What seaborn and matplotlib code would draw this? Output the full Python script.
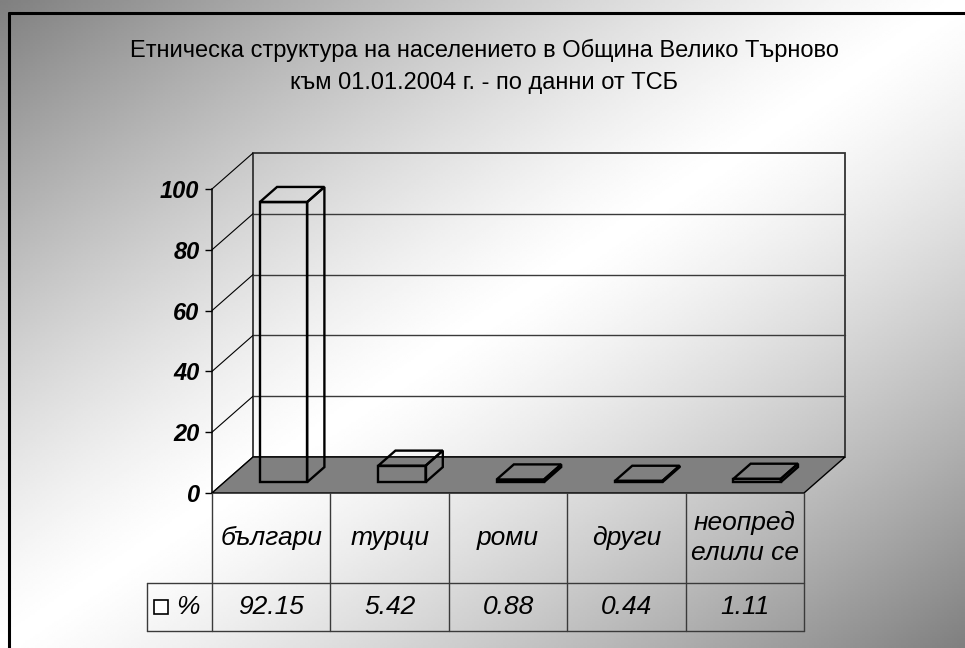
import numpy as np
import pandas as pd
import matplotlib
matplotlib.use("Agg")
import matplotlib.pyplot as plt
from matplotlib.patches import Polygon, Rectangle
from matplotlib.lines import Line2D
import seaborn as sns

# данни
categories = ['българи', 'турци', 'роми', 'други', 'неопред\nелили се']
values = [92.15, 5.42, 0.88, 0.44, 1.11]
series_name = '%'
yticks = [0, 20, 40, 60, 80, 100]
title = ('Етническа структура на населението в Община Велико Търново\n'
         'към 01.01.2004 г. - по данни от ТСБ')

W, H = 965, 648
sns.set_theme(style='white')
plt.rcParams['font.family'] = ['Liberation Sans', 'DejaVu Sans']
plt.rcParams['text.color'] = 'black'
plt.rcParams['ytick.color'] = 'black'
plt.rcParams['ytick.labelcolor'] = 'black'

fig = plt.figure(figsize=(W / 100, H / 100), dpi=100)

# фон - диагонален градиент (сиво - бяло - сиво)
bg = fig.add_axes([0, 0, 1, 1], zorder=-10)
xx, yy = np.meshgrid(np.linspace(0, 1, 400), np.linspace(0, 1, 300))
t = (xx + yy) / 2
shade = 1 - 0.5 * np.abs(2 * t - 1) ** 1.25
bg.imshow(shade, cmap='gray', vmin=0, vmax=1, aspect='auto', interpolation='bilinear')
bg.axis('off')

# предна равнина на графиката (в пиксели)
px_left, px_right = 212, 804
px_zero, px_top = 493, 189
ax = fig.add_axes([px_left / W, 1 - px_zero / H,
                   (px_right - px_left) / W, (px_zero - px_top) / H])
ax.set_facecolor('none')

n = len(categories)
px_per_cat = (px_right - px_left) / n
px_per_unit = (px_zero - px_top) / 100
DX = 41 / px_per_cat       # дълбочина по x (в категории)
DY = 36 / px_per_unit      # дълбочина по y (в единици)

df = pd.DataFrame({'категория': categories, 'стойност': values})
sns.barplot(data=df, x='категория', y='стойност', ax=ax, width=0.40,
            fill=False, color='black', edgecolor='black', linewidth=1.7, zorder=4)

ax.set_xlim(-0.5, n - 0.5)
ax.set_ylim(0, 100)
ax.set_xlabel('')
ax.set_ylabel('')

# 3D вид на колоните
f0, f1 = 0.30, 0.72
for p in ax.patches:
    x0 = p.get_x()
    w = p.get_width()
    h = p.get_height()
    p.set_x(x0 + f0 * DX)
    p.set_y(f0 * DY)
    p.set_clip_on(False)
    top = [(x0 + f0 * DX, f0 * DY + h), (x0 + w + f0 * DX, f0 * DY + h),
           (x0 + w + f1 * DX, f1 * DY + h), (x0 + f1 * DX, f1 * DY + h)]
    side = [(x0 + w + f0 * DX, f0 * DY), (x0 + w + f1 * DX, f1 * DY),
            (x0 + w + f1 * DX, f1 * DY + h), (x0 + w + f0 * DX, f0 * DY + h)]
    for poly in (top, side):
        ax.add_patch(Polygon(poly, closed=True, fill=False, edgecolor='black',
                             linewidth=1.7, zorder=4, clip_on=False))

# под
floor = [(-0.5, 0), (n - 0.5, 0), (n - 0.5 + DX, DY), (-0.5 + DX, DY)]
ax.add_patch(Polygon(floor, closed=True, facecolor='#808080', edgecolor='black',
                     linewidth=1.0, zorder=2, clip_on=False))

# задна стена и мрежа
ax.add_patch(Rectangle((-0.5 + DX, DY), n, 100, fill=False, edgecolor='#333333',
                       linewidth=1.3, zorder=1, clip_on=False))
for v in yticks[1:-1]:
    ax.plot([-0.5 + DX, n - 0.5 + DX], [v + DY, v + DY], color='#3a3a3a',
            linewidth=1.0, zorder=1, clip_on=False)
# лява стена
for v in yticks:
    ax.plot([-0.5, -0.5 + DX], [v, v + DY], color='black', linewidth=0.8,
            zorder=1, clip_on=False)

# ос y
ax.set_xticks([])
ax.set_yticks(yticks)
ax.set_yticklabels([str(v) for v in yticks], fontsize=17,
                   fontweight='bold', fontstyle='italic', color='black')
ax.tick_params(axis='y', left=True, direction='out', length=5, width=1,
               color='black', pad=4)
for s in ['top', 'right', 'bottom']:
    ax.spines[s].set_visible(False)
ax.spines['left'].set_color('black')
ax.spines['left'].set_linewidth(1.1)

# таблица с данни
row1 = -(583 - px_zero) / px_per_unit
row2 = -(631 - px_zero) / px_per_unit
key_left = -0.5 - (px_left - 147) / px_per_cat
line_kw = dict(color='#3a3a3a', linewidth=1.0, clip_on=False, zorder=3)
ax.plot([-0.5, n - 0.5], [row1, row1], **line_kw)
ax.plot([key_left, n - 0.5], [row2, row2], **line_kw)
ax.plot([key_left, -0.5], [row1, row1], **line_kw)
ax.plot([key_left, key_left], [row1, row2], **line_kw)
for i in range(n + 1):
    ax.plot([i - 0.5, i - 0.5], [0, row2], **line_kw)

for i, (c, v) in enumerate(zip(categories, values)):
    ax.text(i, row1 / 2, c, ha='center', va='center', fontsize=19,
            fontstyle='italic', linespacing=1.35, color='black', clip_on=False)
    ax.text(i, (row1 + row2) / 2, f'{v:.2f}', ha='center', va='center',
            fontsize=19, fontstyle='italic', color='black', clip_on=False)

key_x = -0.5 - (px_left - 160.5) / px_per_cat
ax.plot([key_x], [(row1 + row2) / 2], marker='s', markersize=9.5,
        markerfacecolor='white', markeredgecolor='black', markeredgewidth=1.2,
        clip_on=False, zorder=5)
ax.text(-0.5 - (px_left - 176) / px_per_cat, (row1 + row2) / 2, series_name,
        ha='left', va='center', fontsize=19, fontstyle='italic', color='black',
        clip_on=False)

# заглавие
fig.text(484 / W, 1 - 39 / H, title, ha='center', va='top', fontsize=17,
         linespacing=1.55, color='black')

# рамка
fig.add_artist(Line2D([9 / W, 9 / W], [0, 1 - 13 / H], color='black', linewidth=2.2))
fig.add_artist(Line2D([9 / W, 1], [1 - 13 / H, 1 - 13 / H], color='black', linewidth=2.2))

fig.savefig('out.png', dpi=100)
